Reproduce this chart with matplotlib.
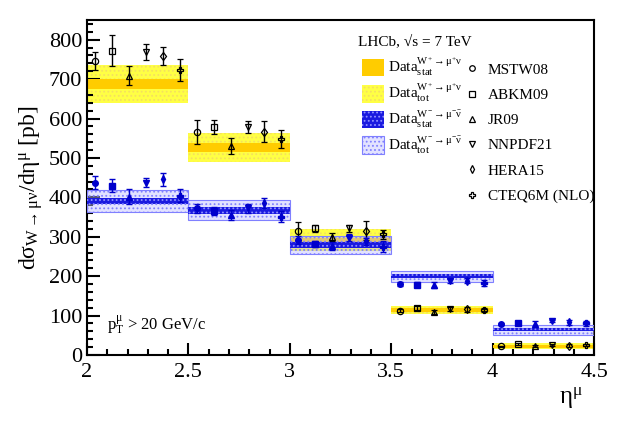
import matplotlib
matplotlib.use('Agg')
import matplotlib.pyplot as plt
import numpy as np
from matplotlib.patches import Patch
from matplotlib.lines import Line2D
from matplotlib.ticker import MultipleLocator

plt.rcParams['font.family'] = ['Liberation Serif', 'DejaVu Serif']
plt.rcParams['mathtext.fontset'] = 'custom'
plt.rcParams['mathtext.rm'] = 'Liberation Serif'
plt.rcParams['mathtext.it'] = 'Liberation Serif:italic'
plt.rcParams['mathtext.default'] = 'regular'
plt.rcParams['hatch.linewidth'] = 0.8

# eta bins
bin_lo = np.array([2.0, 2.5, 3.0, 3.5, 4.0])
bin_w = 0.5

# measured W+ and W- cross sections [pb]
wp_val = np.array([688, 527, 292, 114, 22])
wp_stat = np.array([13, 11, 6, 5, 4])
wp_tot = np.array([48, 37, 28, 11, 8])
wm_val = np.array([391, 367, 279, 200, 64])
wm_stat = np.array([8, 9, 7, 5, 4])
wm_tot = np.array([27, 25, 24, 14, 13])

# theory predictions
models = ['MSTW08', 'ABKM09', 'JR09', 'NNPDF21', 'HERA15', 'CTEQ6M (NLO)']
markers = ['o', 's', '^', 'v', 'd', 'P']
th_wp = [
    [746, 566, 315, 112, 22],
    [772, 578, 321, 120, 28],
    [709, 530, 299, 108, 23],
    [768, 578, 321, 117, 25],
    [759, 567, 315, 116, 24],
    [723, 548, 306, 114, 26],
]
th_wp_err = [
    [23, 30, 22, 4, 2],
    [40, 17, 8, 5, 2],
    [24, 20, 10, 5, 2],
    [20, 16, 8, 5, 2],
    [23, 27, 24, 7, 3],
    [27, 22, 11, 4, 2],
]
th_wm = [
    [437, 372, 292, 180, 78],
    [430, 365, 281, 178, 82],
    [402, 355, 277, 178, 78],
    [437, 372, 298, 189, 86],
    [446, 385, 288, 189, 83],
    [404, 351, 275, 182, 80],
]
th_wm_err = [
    [16, 12, 10, 5, 3],
    [16, 10, 8, 6, 3],
    [19, 12, 10, 7, 8],
    [12, 11, 8, 6, 3],
    [17, 13, 10, 7, 6],
    [17, 14, 13, 8, 6],
]

YEL_TOT = dict(facecolor='#ffff44', edgecolor='#f4e060', hatch='....', linewidth=0)
YEL_STAT = dict(facecolor='#ffcc00', edgecolor='#ffcc00', linewidth=0)
BLU_TOT = dict(facecolor=(0.75, 0.75, 1.0, 0.45), edgecolor='#8080ff', hatch='....', linewidth=0.8)
BLU_STAT = dict(facecolor='#1a1ae0', edgecolor='#9090ff', hatch='....', linewidth=0)


def band(ax, val, err, style, z):
    ax.bar(bin_lo, 2 * err, bottom=val - err, width=bin_w, align='edge', zorder=z, **style)


def main():
    fig = plt.figure(figsize=(6.28, 4.25), dpi=100)
    ax = fig.add_axes([0.1385, 0.1647, 0.8075, 0.7883])

    band(ax, wp_val, wp_tot, YEL_TOT, 1)
    band(ax, wp_val, wp_stat, YEL_STAT, 2)
    band(ax, wm_val, wm_tot, BLU_TOT, 3)
    band(ax, wm_val, wm_stat, BLU_STAT, 4)

    for i, (name, mk) in enumerate(zip(models, markers)):
        x = bin_lo + (i + 0.5) * bin_w / 6
        ax.errorbar(x, th_wp[i], yerr=th_wp_err[i], fmt=mk, ms=4.5, mfc='none', mec='black',
                    mew=0.9, ecolor='black', elinewidth=1, capsize=2.5, zorder=6)
        ax.errorbar(x, th_wm[i], yerr=th_wm_err[i], fmt=mk, ms=4, mfc='#0000cc', mec='#0000cc',
                    ecolor='#0000cc', elinewidth=1, capsize=2.5, zorder=6)

    ax.set_xlim(2, 4.5)
    ax.set_ylim(0, 850)
    ax.xaxis.set_major_locator(MultipleLocator(0.5))
    ax.xaxis.set_minor_locator(MultipleLocator(0.1))
    ax.yaxis.set_major_locator(MultipleLocator(100))
    ax.yaxis.set_minor_locator(MultipleLocator(20))
    ax.xaxis.set_major_formatter(plt.FuncFormatter(lambda v, p: '%g' % v))
    ax.tick_params(which='both', direction='in', width=1.5, labelsize=16)
    ax.tick_params(which='major', length=9)
    ax.tick_params(which='minor', length=4.5)
    ax.tick_params(axis='x', pad=6)
    for s in ax.spines.values():
        s.set_linewidth(1.5)

    ax.set_ylabel(r'd$\sigma_{W\rightarrow\mu\nu}$/d$\eta^{\mu}$ [pb]', fontsize=17, labelpad=3)
    ax.set_xlabel(r'$\eta^{\mu}$', fontsize=18, loc='right')
    ax.xaxis.set_label_coords(0.978, -0.09)
    ax.xaxis.label.set_va('top')

    ax.text(0.04, 0.09, r'p$_{T}^{\mu}$ > 20 GeV/c', transform=ax.transAxes, fontsize=12, va='center')
    ax.text(0.535, 0.935, 'LHCb, \u221as = 7 TeV', transform=ax.transAxes, fontsize=11, va='center')

    band_handles = [Patch(**YEL_STAT), Patch(**YEL_TOT), Patch(**BLU_STAT), Patch(**BLU_TOT)]
    band_labels = [r'Data$_{stat}^{W^{+}\rightarrow\mu^{+}\nu}$',
                   r'Data$_{tot}^{W^{+}\rightarrow\mu^{+}\nu}$',
                   r'Data$_{stat}^{W^{-}\rightarrow\mu^{-}\bar{\nu}}$',
                   r'Data$_{tot}^{W^{-}\rightarrow\mu^{-}\bar{\nu}}$']
    leg1 = ax.legend(band_handles, band_labels, loc='upper left', bbox_to_anchor=(0.543, 0.893),
                     frameon=False, fontsize=11, handlelength=1.4, handleheight=1.4,
                     handletextpad=0.3, labelspacing=0.285, borderaxespad=0, borderpad=0)
    ax.add_artist(leg1)

    mk_handles = [Line2D([], [], ls='none', marker=m, ms=4, mfc='none', mec='black', mew=0.9)
                  for m in markers]
    ax.legend(mk_handles, models, loc='upper left', bbox_to_anchor=(0.745, 0.872),
              frameon=False, fontsize=11, handlelength=1.0, handletextpad=0.5,
              labelspacing=0.76, borderaxespad=0, borderpad=0)

    fig.savefig('out.png', dpi=100)


if __name__ == '__main__':
    main()
